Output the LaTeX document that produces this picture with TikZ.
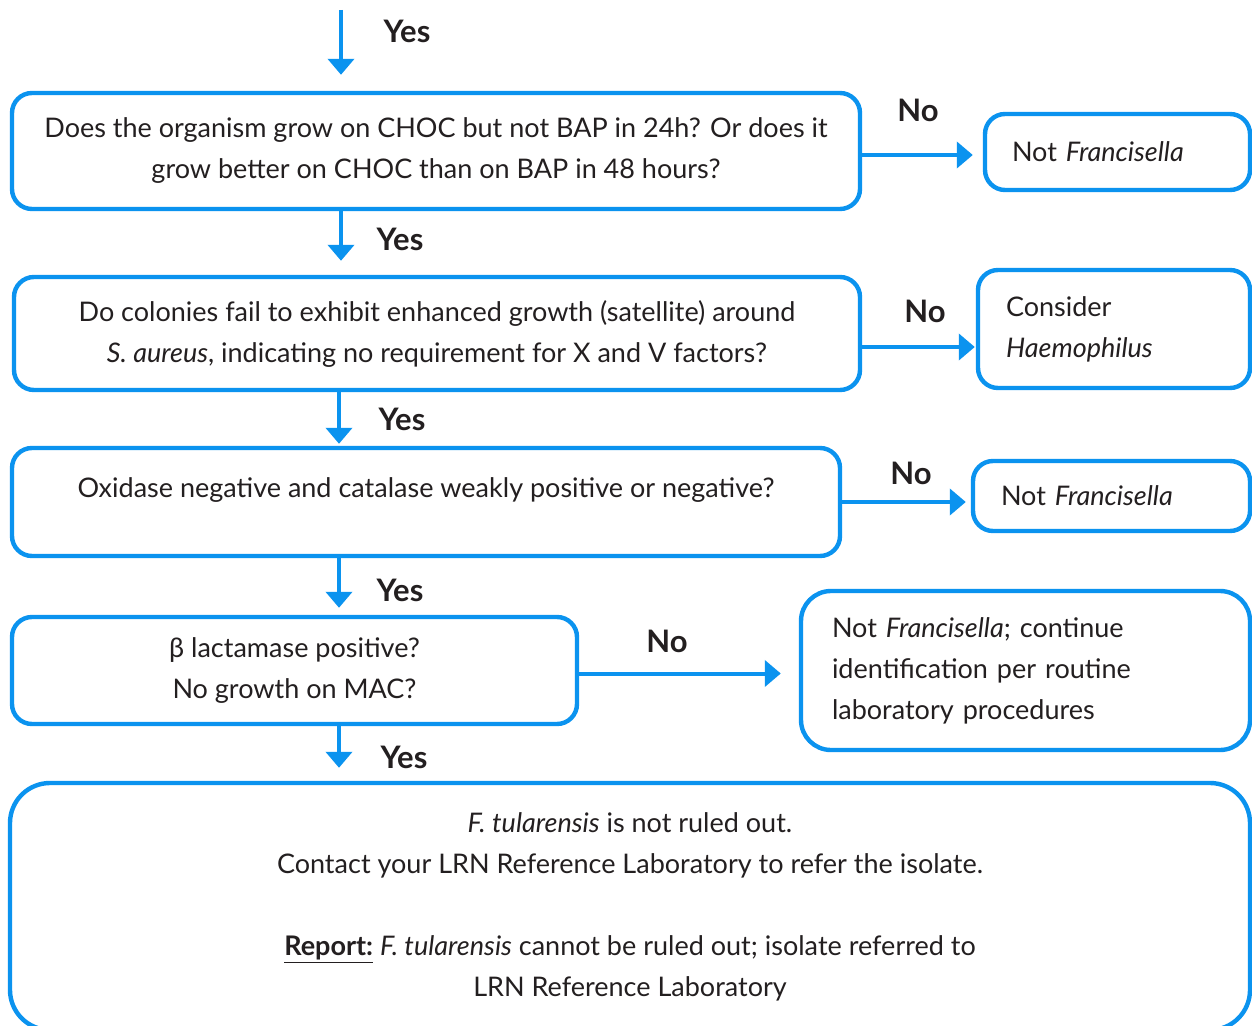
\documentclass[tikz,border=0pt]{standalone}
\usepackage{fontspec}
\setmainfont{Lato}
\usepackage{tikz}
\usetikzlibrary{positioning,arrows.meta,calc}
\definecolor{cFlow}{HTML}{0B93EF}
\definecolor{cText}{HTML}{231F20}
\tikzset{
  >={Triangle[length=8pt,width=13pt]},
  qbox/.style={rounded corners=10pt,draw=cFlow,line width=2.2pt,align=center,
               text=cText,fill=white},
  obox/.style={qbox,align=left,inner xsep=14pt},
  arr/.style ={->,cFlow,line width=2pt},
  ans/.style ={text=cText,font=\fontsize{15.5}{18}\selectfont\bfseries},
}
\begin{document}
\begin{tikzpicture}[x=0.5pt,y=-0.5pt,font=\fontsize{13.5}{20.5}\selectfont]
        \useasboundingbox (0,0) rectangle (1252,1026);
        \clip (0,0) rectangle (1252,1026);
        % question boxes
        \node[qbox,minimum width=424pt,minimum height=58pt] (grow) at (436,151)
          {Does the organism grow on CHOC but not BAP in 24h? Or does it\\grow better on CHOC than on BAP in 48 hours?};
        \node[qbox,minimum width=423pt,minimum height=56.5pt] (sat) at (437,333.5)
          {Do colonies fail to exhibit enhanced growth (satellite) around\\\textit{S. aureus}, indicating no requirement for X and V factors?};
        \node[qbox,minimum width=414pt,inner ysep=0pt,text height=24.5pt,text depth=29.5pt] (oxi) at (426,502)
          {Oxidase negative and catalase weakly positive or negative?};
        \node[qbox,minimum width=282.5pt,minimum height=53.5pt] (beta) at (294.5,670.5)
          {β lactamase positive?\\No growth on MAC?};
        \node[qbox,rounded corners=20pt,minimum width=620pt,minimum height=123.5pt] (rep) at (630,906.5)
          {\textit{F. tularensis} is not ruled out.\\Contact your LRN Reference Laboratory to refer the isolate.\\[20.5pt]
           \underline{\textbf{Report:}} \textit{F. tularensis} cannot be ruled out; isolate referred to\\LRN Reference Laboratory};
        % outcome boxes
        \node[obox,inner xsep=13.5pt,text width=105.5pt,minimum height=38pt] (notf1) at (1117.5,152)
          {Not \textit{Francisella}};
        \node[obox,text width=108pt,minimum height=59pt] (haem) at (1114,329)
          {Consider\\\textit{Haemophilus}};
        \node[obox,text width=110.5pt,minimum height=35pt] (notf2) at (1111.5,496)
          {Not \textit{Francisella}};
        \node[obox,rounded corners=15pt,inner xsep=15.5pt,text width=193.5pt,minimum height=79.5pt] (notf3) at (1025.5,670.5)
          {Not \textit{Francisella}; continue\\identification per routine\\laboratory procedures};
        % yes arrows
        \coordinate (top) at (341,10);
        \coordinate (col) at (339,10);
        \draw[arr,shorten >=8pt] (top)--(top |- grow.north);
        \draw[arr,shorten >=7pt] (grow.south -| top)--(sat.north -| top);
        \draw[arr,shorten >=1pt] (sat.south -| col)--(oxi.north -| col);
        \draw[arr,shorten >=3.5pt] (oxi.south -| col)--(beta.north -| col);
        \draw[arr,shorten >=6.5pt] (beta.south -| col)--(rep.north -| col);
        % no arrows
        \draw[arr,shorten >=5pt] ([yshift=-2pt]grow.east)--([yshift=-2pt]grow.east -| notf1.west);
        \draw[arr,shorten >=0.5pt] ([yshift=-6.75pt]sat.east)--([yshift=-6.75pt]sat.east -| haem.west);
        \draw[arr,shorten >=2.5pt] (oxi.east)--(oxi.east -| notf2.west);
        \draw[arr,shorten >=9pt] ([yshift=-1.5pt]beta.east)--([yshift=-1.5pt]beta.east -| notf3.west);
        % answers
        \node[ans] (y1) at (407,31) {Yes};
        \node[ans] (y2) at (400,239) {Yes};
        \node[ans] (y3) at (402,419) {Yes};
        \node[ans] (y4) at (400,590) {Yes};
        \node[ans] (y5) at (404,757) {Yes};
        \node[ans] (n1) at (918,110) {No};
        \node[ans] (n2) at (925,311) {No};
        \node[ans] (n3) at (911,473) {No};
        \node[ans] (n4) at (667,641) {No};
      \end{tikzpicture}
\end{document}
